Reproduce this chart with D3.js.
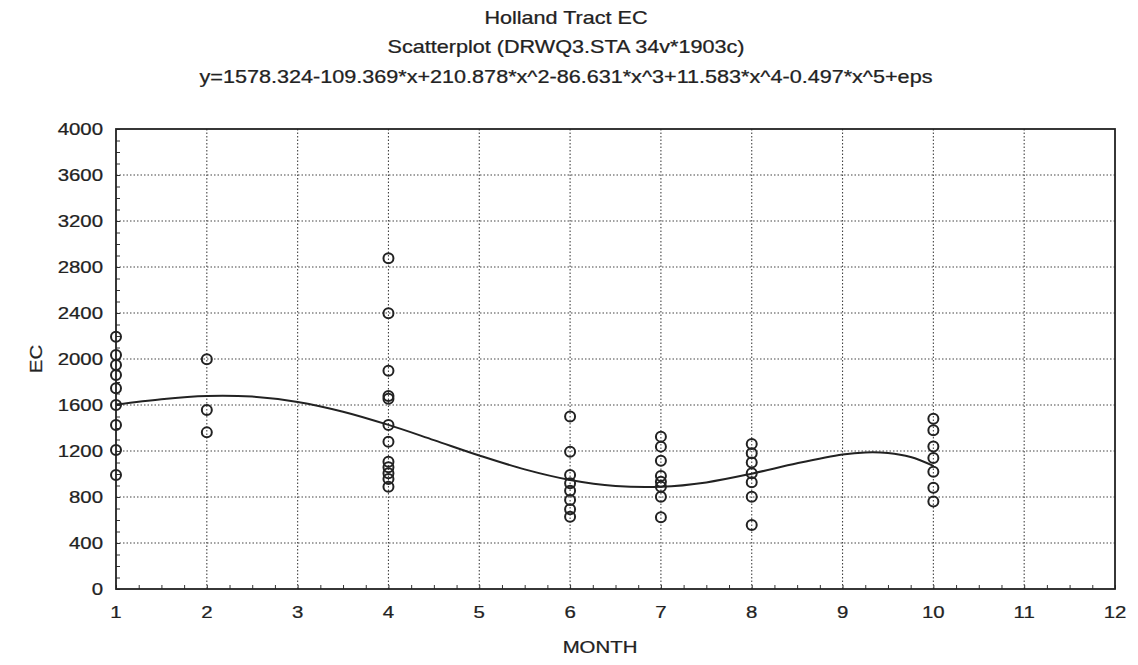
<!DOCTYPE html>
<html>
<head>
<meta charset="utf-8">
<script src="https://cdn.jsdelivr.net/npm/d3@7"></script>
<style>
  html, body { margin: 0; padding: 0; background: #fff; }
  svg { display: block; }
  text { font-family: "Liberation Sans", Arial, sans-serif; fill: #222; stroke: #222; stroke-width: 0.25px; }
</style>
</head>
<body>
<svg id="chart" width="1138" height="665"></svg>
<script>
// ---- data ----
const titleLines = [
  "Holland Tract EC",
  "Scatterplot (DRWQ3.STA 34v*1903c)",
  "y=1578.324-109.369*x+210.878*x^2-86.631*x^3+11.583*x^4-0.497*x^5+eps"
];
const xLabel = "MONTH";
const yLabel = "EC";
const xTicks = [1, 2, 3, 4, 5, 6, 7, 8, 9, 10, 11, 12];
const yTicks = [0, 400, 800, 1200, 1600, 2000, 2400, 2800, 3200, 3600, 4000];

const months = [1, 2, 4, 6, 7, 8, 10];
const ecByMonth = [
  [2194, 2035, 1948, 1861, 1745, 1600, 1426, 1209, 991],
  [1997, 1557, 1362],
  [2876, 2397, 1898, 1678, 1655, 1426, 1281, 1107, 1058, 1006, 957, 890],
  [1500, 1194, 991, 919, 855, 774, 693, 629],
  [1325, 1238, 1116, 983, 933, 890, 803, 623],
  [1261, 1180, 1099, 1006, 928, 803, 557],
  [1480, 1380, 1240, 1140, 1020, 880, 760]
];

// fitted curve, read at half-month steps
const fitX = [1, 1.5, 2, 2.5, 3, 3.5, 4, 4.5, 5, 5.5, 6, 6.5, 7, 7.5, 8, 8.5, 9, 9.25, 9.5, 9.75, 10];
const fitY = [1604, 1651, 1679, 1673, 1627, 1542, 1427, 1295, 1161, 1040, 948, 896, 889, 927, 1003, 1094, 1170, 1188, 1183, 1148, 1071];

// ---- layout ----
const svg = d3.select("#chart");
const padL = 116, padR = 1115, padT = 129, padB = 589;
const sx = 1.2; // horizontal stretch of the lettering
const fs = 17;

const x = d3.scaleLinear().domain([1, 12]).range([padL, padR]);
const y = d3.scaleLinear().domain([0, 4000]).range([padB, padT]);

function label(px, py, str, anchor, size, rotate) {
  const g = svg.append("g").attr("transform", `translate(${px},${py})` + (rotate ? ` rotate(${rotate})` : ""));
  g.append("text")
    .attr("transform", `scale(${sx},1)`)
    .attr("text-anchor", anchor)
    .attr("dominant-baseline", "central")
    .attr("font-size", size)
    .text(str);
}

// grid
const gridColor = "#444";
svg.append("g").selectAll("line").data(yTicks.filter(d => d > 0 && d < 4000)).join("line")
  .attr("x1", padL).attr("x2", padR)
  .attr("y1", d => y(d)).attr("y2", d => y(d))
  .attr("stroke", gridColor).attr("stroke-width", 1.1).attr("stroke-dasharray", "1.5,2");
svg.append("g").selectAll("line").data(xTicks.filter(d => d > 1 && d < 12)).join("line")
  .attr("y1", padT).attr("y2", padB)
  .attr("x1", d => x(d)).attr("x2", d => x(d))
  .attr("stroke", gridColor).attr("stroke-width", 1.1).attr("stroke-dasharray", "1.5,2");

// axes using d3 axis, ticks drawn inward
const xAxis = d3.axisBottom(x).tickValues(d3.range(1, 12.001, 0.25)).tickSize(-4).tickFormat("");
const gx = svg.append("g").attr("transform", `translate(0,${padB})`).call(xAxis);
const yAxis = d3.axisLeft(y).tickValues(d3.range(0, 4001, 100)).tickSize(-4).tickFormat("");
const gy = svg.append("g").attr("transform", `translate(${padL},0)`).call(yAxis);
[gx, gy].forEach(g => {
  g.selectAll("line").attr("stroke", "#333").attr("stroke-width", 1);
  g.select(".domain").attr("stroke", "none");
});

// frame
svg.append("rect").attr("x", padL).attr("y", padT)
  .attr("width", padR - padL).attr("height", padB - padT)
  .attr("fill", "none").attr("stroke", "#222").attr("stroke-width", 1.8);

// tick labels
xTicks.forEach(t => label(x(t), 612, String(t), "middle", fs));
yTicks.forEach(t => label(103, y(t), String(t), "end", fs));

// titles
label(566, 18, titleLines[0], "middle", 18);
label(566, 47, titleLines[1], "middle", 18);
label(566, 77, titleLines[2], "middle", 18);

// axis titles
label(600, 647, xLabel, "middle", fs);
label(36, 359, yLabel, "middle", fs, -90);

// fitted curve
const line = d3.line().x(d => x(d[0])).y(d => y(d[1])).curve(d3.curveCatmullRom.alpha(0.5));
svg.append("path").datum(fitX.map((v, i) => [v, fitY[i]]))
  .attr("d", line).attr("fill", "none").attr("stroke", "#222").attr("stroke-width", 2);

// points
const pts = [];
months.forEach((m, i) => ecByMonth[i].forEach(v => pts.push([m, v])));
svg.append("g").selectAll("circle").data(pts).join("circle")
  .attr("cx", d => x(d[0])).attr("cy", d => y(d[1])).attr("r", 5)
  .attr("fill", "none").attr("stroke", "#222").attr("stroke-width", 2);
</script>
</body>
</html>
